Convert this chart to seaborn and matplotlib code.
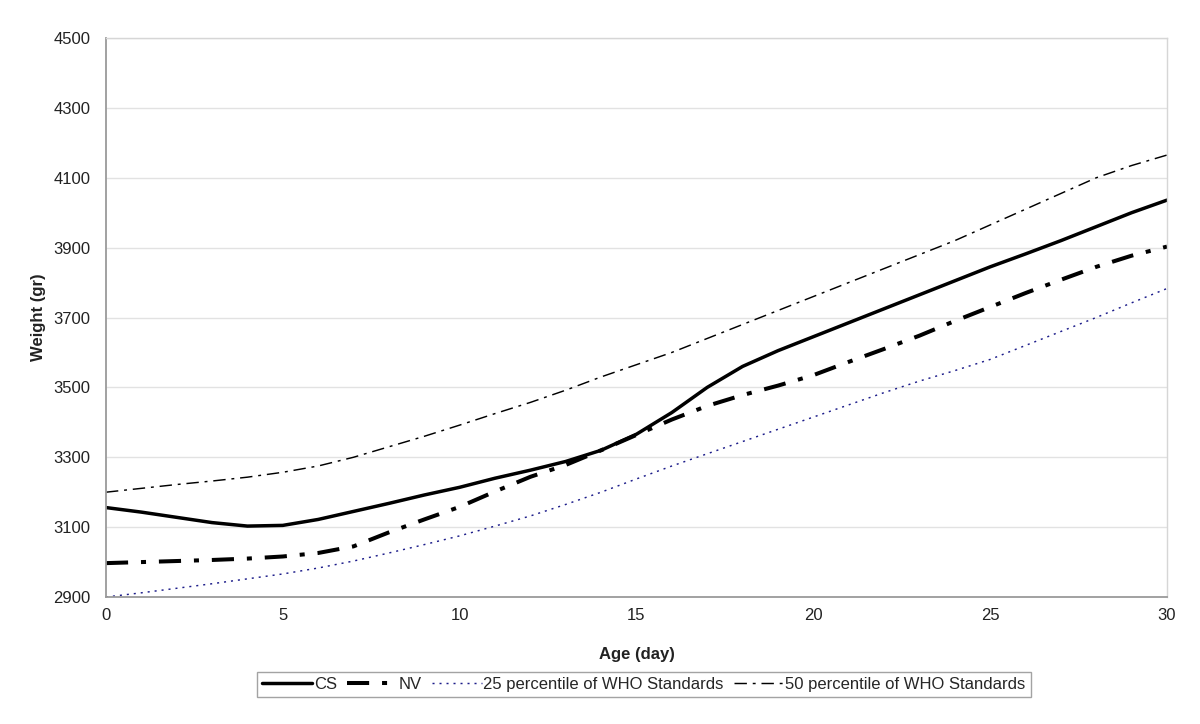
import numpy as np
import pandas as pd
import matplotlib
matplotlib.use('Agg')
import matplotlib.pyplot as plt
import seaborn as sns

# values (grams, day 0..30)
days = list(range(31))
cs = [3156, 3143, 3128, 3113, 3103, 3105, 3122, 3145, 3168, 3192,
      3214, 3240, 3263, 3288, 3320, 3366, 3428, 3500, 3560, 3605,
      3645, 3685, 3725, 3765, 3805, 3845, 3882, 3920, 3960, 4000, 4036]
nv = [2997, 3000, 3003, 3006, 3010, 3016, 3026, 3045, 3085, 3122,
      3158, 3202, 3244, 3278, 3320, 3364, 3408, 3447, 3478, 3505,
      3535, 3573, 3610, 3648, 3690, 3730, 3770, 3808, 3845, 3877, 3903]
who25 = [2900, 2912, 2925, 2938, 2952, 2966, 2983, 3003, 3026, 3050,
         3075, 3103, 3132, 3165, 3200, 3238, 3275, 3310, 3345, 3380,
         3415, 3450, 3485, 3518, 3548, 3580, 3620, 3660, 3700, 3742, 3783]
who50 = [3200, 3211, 3222, 3232, 3243, 3257, 3275, 3300, 3330, 3360,
         3392, 3425, 3457, 3492, 3530, 3565, 3600, 3640, 3680, 3720,
         3760, 3800, 3840, 3880, 3920, 3965, 4010, 4055, 4100, 4135, 4165]

series_labels = ['CS', 'NV', '25 percentile of WHO Standards',
                 '50 percentile of WHO Standards']
x_ticks = [0, 5, 10, 15, 20, 25, 30]
y_ticks = list(range(2900, 4501, 200))

df = pd.DataFrame({'day': days, 'CS': cs, 'NV': nv,
                   'WHO25': who25, 'WHO50': who50})

sns.set_style('white')
plt.rcParams['font.family'] = ['Liberation Sans', 'DejaVu Sans']

fig = plt.figure(figsize=(12, 7.24), dpi=100)
ax = fig.add_axes([0.0883, 0.1754, 0.8842, 0.7721])

sns.lineplot(data=df, x='day', y='CS', ax=ax, color='black',
             linewidth=2.5, linestyle='-', label=series_labels[0])
sns.lineplot(data=df, x='day', y='NV', ax=ax, color='black',
             linewidth=2.9, linestyle=(0, (5.5, 3.2, 1.25, 3.2)),
             label=series_labels[1])
sns.lineplot(data=df, x='day', y='WHO25', ax=ax, color='#1c1c8a',
             linewidth=1.05, linestyle=(0, (1.4, 3.4)),
             label=series_labels[2])
sns.lineplot(data=df, x='day', y='WHO50', ax=ax, color='black',
             linewidth=1.05, linestyle=(0, (8.5, 4, 2, 4)),
             label=series_labels[3])

ax.set_xlim(0, 30)
ax.set_ylim(2900, 4500)
ax.set_xticks(x_ticks)
ax.set_yticks(y_ticks)
ax.yaxis.grid(True, color='#e2e2e2', linewidth=1.0)
ax.xaxis.grid(False)
ax.set_axisbelow(True)

for side in ['left', 'bottom']:
    ax.spines[side].set_color('#9a9a9a')
    ax.spines[side].set_linewidth(1.3)
for side in ['top', 'right']:
    ax.spines[side].set_color('#d6d6d6')
    ax.spines[side].set_linewidth(1.0)

ax.tick_params(axis='both', which='major', direction='out', length=5,
               width=1.0, color='#9a9a9a', labelsize=12,
               labelcolor='#222222', pad=6)
ax.tick_params(axis='x', pad=3)

ax.set_xlabel('Age (day)', fontsize=12, fontweight='bold',
              color='#222222', labelpad=17)
ax.set_ylabel('Weight (gr)', fontsize=12, fontweight='bold',
              color='#222222', labelpad=5)

ax.get_legend().remove()
handles = ax.get_lines()[:4]
leg = fig.legend(handles, series_labels, loc='center',
                 bbox_to_anchor=(0.5367, 0.0546), ncol=4, frameon=True,
                 fancybox=False, edgecolor='#8c8c8c', fontsize=12,
                 handlelength=3.0, handletextpad=0.1, columnspacing=0.6,
                 borderpad=0.3)
leg.get_frame().set_linewidth(1.0)

fig.savefig('out.png', dpi=100, facecolor='white')
